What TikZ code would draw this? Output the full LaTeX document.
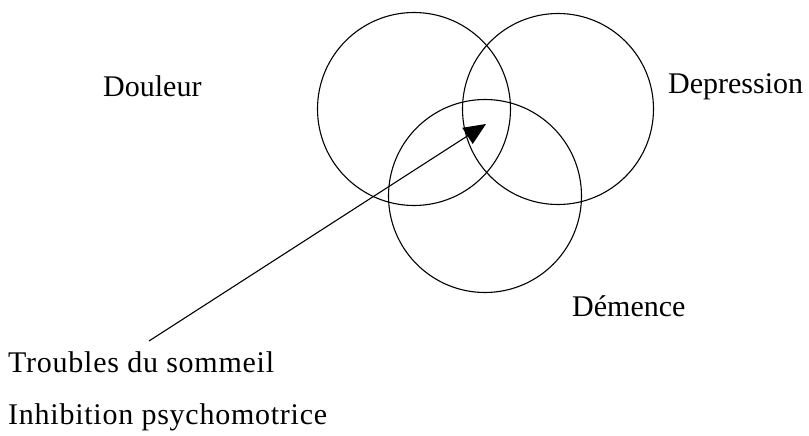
\documentclass[tikz,border=0pt]{standalone}
\usepackage{fontspec}
\setmainfont{Liberation Serif}
\usetikzlibrary{arrows.meta}
\begin{document}
\begin{tikzpicture}[x=1pt,y=-1pt,
  ring/.style={circle,draw,line width=1.1pt,inner sep=0pt},
  lbl/.style={anchor=base west,inner sep=0pt,font=\fontsize{30}{36}\selectfont},
  lblsp/.style={lbl,font=\fontsize{30}{36}\selectfont\addfontfeature{LetterSpace=2.5}},
  pointer/.style={line width=1.1pt,-{Triangle[length=22pt,width=19pt]}}]
\useasboundingbox (0,0) rectangle (809,436);
\node[ring,minimum size=193pt] (douleurC) at (414,109) {};
\node[ring,minimum size=191pt] (depressionC) at (558,109) {};
\node[ring,minimum size=193pt] (demenceC) at (485,196) {};
\node[lbl] (douleur) at (103,96) {Douleur};
\node[lbl] (depression) at (668,94) {Depression};
\node[lbl] (demence) at (572,316) {Démence};
\node[lblsp] (troubles) at (8,372) {Troubles du sommeil};
\node[lblsp] (inhib) at (8,424) {Inhibition psychomotrice};
\coordinate (from) at (149,341);
\coordinate (to) at (486,124);
\draw[pointer] (from) -- (to);
\end{tikzpicture}
\end{document}
